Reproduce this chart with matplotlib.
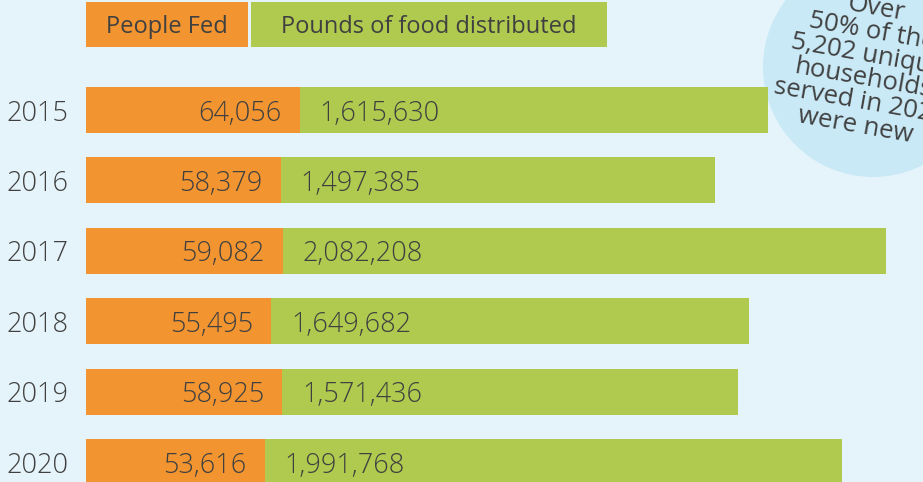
import matplotlib
matplotlib.use('Agg')
import matplotlib.pyplot as plt
from matplotlib.patches import Rectangle, Circle

years = ['2015', '2016', '2017', '2018', '2019', '2020']
people_fed = [64056, 58379, 59082, 55495, 58925, 53616]
pounds = [1615630, 1497385, 2082208, 1649682, 1571436, 1991768]

legend_labels = ['People Fed', 'Pounds of food distributed']
note_lines = ['Over', '50% of the', '5,202 unique', 'households', 'served in 2020', 'were new']

# colours
BG = '#e5f4fa'
ORANGE = '#f29530'
GREEN = '#b0ca4f'
BUBBLE = '#c9e9f6'
TXT = '#404040'

# scales: value per pixel of bar length
PEOPLE_PER_PX = 300.0
POUNDS_PER_PX = 3450.0

plt.rcParams['font.family'] = ['Open Sans', 'DejaVu Sans']

fig = plt.figure(figsize=(9.23, 4.82), dpi=100)
fig.patch.set_facecolor(BG)

# decoration layer in pixel coords
deco = fig.add_axes([0, 0, 1, 1])
deco.set_xlim(0, 923)
deco.set_ylim(482, 0)
deco.axis('off')
deco.add_patch(Circle((873, 67), 110, color=BUBBLE, lw=0))
deco.text(866, 67, '\n'.join(note_lines), rotation=-10, rotation_mode='anchor',
          ha='center', va='center', multialignment='center',
          fontsize=18.5, color=TXT, linespacing=0.93)

deco.add_patch(Rectangle((86, 2), 162, 45, color=ORANGE, lw=0))
deco.add_patch(Rectangle((251, 2), 356, 45, color=GREEN, lw=0))
deco.text(167, 27, legend_labels[0], ha='center', va='center', fontsize=17, color=TXT)
deco.text(429, 27, legend_labels[1], ha='center', va='center', fontsize=17, color=TXT)

# bars
ax = fig.add_axes([0, 0, 1, 1])
ax.patch.set_alpha(0)
ax.set_xlim(-86, 837)
ax.set_ylim(5.284, -1.5625)
ax.axis('off')

idx = list(range(len(years)))
w_people = [p / PEOPLE_PER_PX for p in people_fed]
w_pounds = [p / POUNDS_PER_PX for p in pounds]

ax.barh(idx, w_people, height=0.653, color=ORANGE, lw=0)
ax.barh(idx, w_pounds, left=w_people, height=0.653, color=GREEN, lw=0)

for i, y in enumerate(years):
    ax.text(-80, i, y, ha='left', va='center_baseline', fontsize=19.5,
            color=TXT, fontweight='light')
    ax.text(w_people[i] - 18, i, '{:,}'.format(people_fed[i]), ha='right',
            va='center_baseline', fontsize=19.5, color=TXT, fontweight='light')
    ax.text(w_people[i] + 20, i, '{:,}'.format(pounds[i]), ha='left',
            va='center_baseline', fontsize=19.5, color=TXT, fontweight='light')

fig.savefig('out.png', dpi=100, facecolor=BG)
